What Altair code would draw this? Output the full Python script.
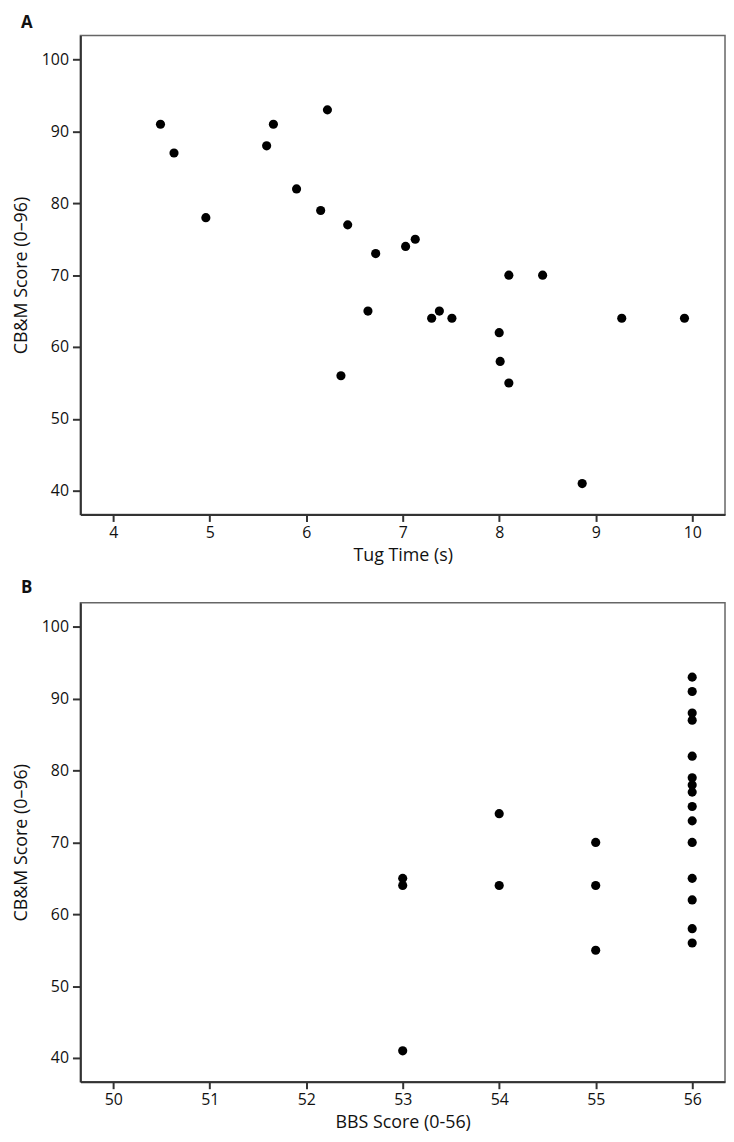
import altair as alt
import pandas as pd

# Panel A: TUG time vs CB&M score
tug_time = [4.49, 4.63, 4.96, 5.59, 5.66, 5.90, 6.22, 6.15, 6.43, 6.36,
            6.72, 7.03, 7.13, 8.10, 8.45, 6.64, 7.30, 7.38, 7.51, 8.00,
            8.01, 8.10, 9.27, 9.92, 8.86]
cbm_a = [91, 87, 78, 88, 91, 82, 93, 79, 77, 56,
         73, 74, 75, 70, 70, 65, 64, 65, 64, 62,
         58, 55, 64, 64, 41]

# Panel B: BBS score vs CB&M score
bbs_score = [53, 53, 53, 54, 54, 55, 55, 55,
             56, 56, 56, 56, 56, 56, 56, 56, 56, 56, 56, 56, 56, 56, 56]
cbm_b = [65, 64, 41, 74, 64, 70, 64, 55,
         93, 91, 88, 87, 82, 79, 78, 77, 75, 73, 70, 65, 62, 58, 56]

x_ticks_a = [4, 5, 6, 7, 8, 9, 10]
x_ticks_b = [50, 51, 52, 53, 54, 55, 56]
y_ticks = [40, 50, 60, 70, 80, 90, 100]

FONT = "Open Sans"

df_a = pd.DataFrame({"x": tug_time, "y": cbm_a})
df_b = pd.DataFrame({"x": bbs_score, "y": cbm_b})


def axis(values, title, tick, lp, tp):
    return alt.Axis(values=values, title=title, grid=False,
                    domainColor="#333", domainWidth=2,
                    tickColor="#333", tickWidth=2, tickSize=tick,
                    labelFont=FONT, labelFontSize=16, labelColor="#111",
                    labelPadding=lp, titleFont=FONT, titleFontSize=18,
                    titleFontWeight="normal", titleColor="#111",
                    titlePadding=tp, labelFlush=False, labelOverlap=False)


def panel(df, label, xtitle, xdomain, xticks, toff):
    return alt.Chart(
        df,
        title=alt.TitleParams(label, anchor="start", frame="group", dx=-60,
                              fontSize=17, fontWeight="bold", font=FONT,
                              color="#111", offset=toff),
    ).mark_circle(size=85, color="black", opacity=1).encode(
        x=alt.X("x:Q", scale=alt.Scale(domain=xdomain, nice=False, zero=False),
                axis=axis(xticks, xtitle, 7, 3, 6)),
        y=alt.Y("y:Q", scale=alt.Scale(domain=[36.7, 103.35], nice=False, zero=False),
                axis=axis(y_ticks, "CB&M Score (0–96)", 8, 4, 11)),
    ).properties(width=650, height=483)


chart_a = panel(df_a, "A", "Tug Time (s)", [3.66, 10.34], x_ticks_a, 4)
chart_b = panel(df_b, "B", "BBS Score (0-56)", [49.66, 56.34], x_ticks_b, 6)

chart = alt.vconcat(chart_a, chart_b, spacing=13).properties(
    padding={"left": 3, "top": 0, "right": 0, "bottom": 0}
).configure_view(stroke="#666", strokeWidth=1.5)

chart.save("out.html", embed_options={"renderer": "svg", "actions": False})
